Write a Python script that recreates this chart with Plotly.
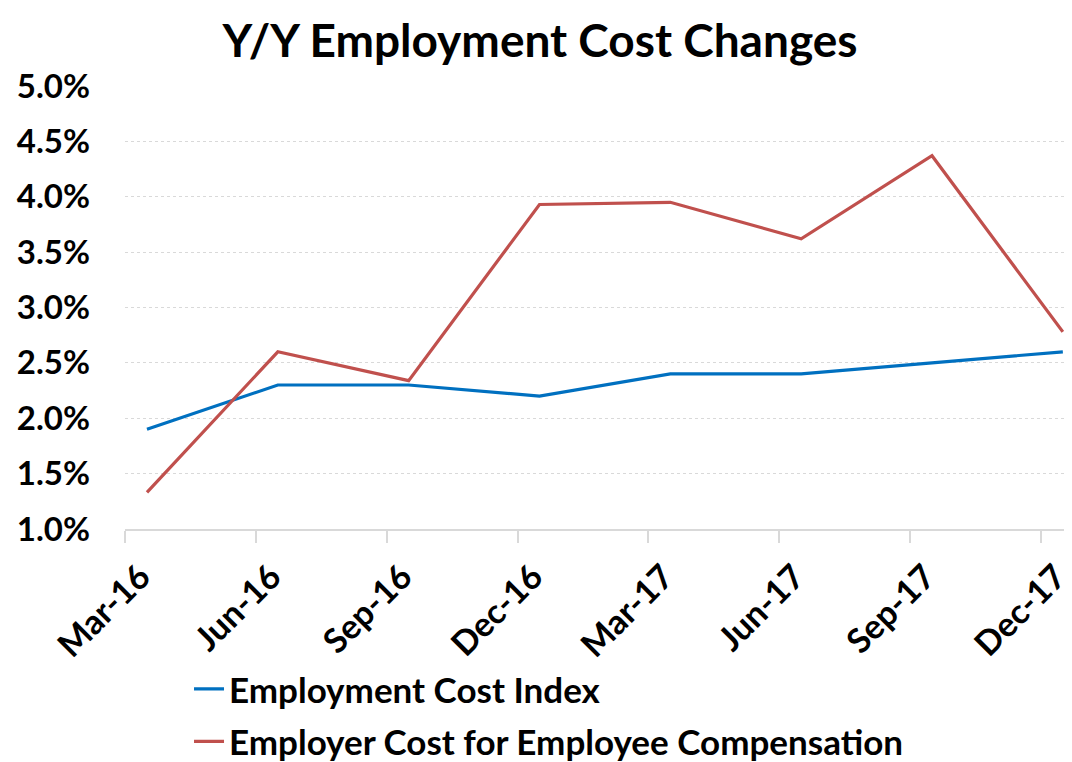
import plotly.graph_objects as go

categories = ["Mar-16", "Jun-16", "Sep-16", "Dec-16", "Mar-17", "Jun-17", "Sep-17", "Dec-17"]
eci = [1.9, 2.3, 2.3, 2.2, 2.4, 2.4, 2.5, 2.6]
ecec = [1.33, 2.6, 2.34, 3.93, 3.95, 3.62, 4.37, 2.78]
y_ticks = [1.0, 1.5, 2.0, 2.5, 3.0, 3.5, 4.0, 4.5, 5.0]

FONT = "Lato"
idx = list(range(len(categories)))
tick_offset = 0.168   # Excel-style tick marks sit left of the points
label_offset = 0.05   # labels sit slightly left of the points

fig = go.Figure()
fig.add_trace(go.Scatter(x=idx, y=eci, mode="lines", name="Employment Cost Index",
                         legendgroup="a", line=dict(color="#0070C0", width=3.2)))
fig.add_trace(go.Scatter(x=idx, y=ecec, mode="lines", name="Employer Cost for Employee Compensation",
                         legendgroup="b", line=dict(color="#C0504D", width=3.2)))
# invisible trace to carry the label axis
fig.add_trace(go.Scatter(x=idx, y=eci, xaxis="x2", mode="lines", showlegend=False,
                         line=dict(width=0), hoverinfo="skip", opacity=0))

xr = [-tick_offset, 7.07]
fig.update_layout(
    width=1064, height=754,
    margin=dict(l=117, r=0, t=78, b=233, autoexpand=False),
    paper_bgcolor="white", plot_bgcolor="white",
    title=dict(text="<b>Y/Y Employment Cost Changes</b>", x=0.5, xref="container", xanchor="center",
               y=0.957, yref="container", yanchor="middle",
               font=dict(family=FONT, size=46, color="black")),
    xaxis=dict(range=xr, tickmode="array", tickvals=[i - tick_offset for i in idx],
               showticklabels=False, ticks="outside", ticklen=12, tickcolor="#d9d9d9",
               tickwidth=1.5, showgrid=False, showline=True, linecolor="#d9d9d9",
               linewidth=1.5, zeroline=False, automargin=False),
    xaxis2=dict(range=xr, overlaying="x", anchor="y", side="bottom", tickmode="array",
                tickvals=[i - label_offset for i in idx], ticktext=categories, tickangle=-45,
                ticks="", showgrid=False, showline=False, zeroline=False,
                ticklabeloverflow="allow", ticklabelstandoff=20, automargin=False,
                tickfont=dict(family=FONT, size=34, color="black", weight="bold")),
    yaxis=dict(range=[1.0, 5.0], tickmode="array", tickvals=y_ticks,
               ticktext=[f"{v:.1f}%" for v in y_ticks],
               tickfont=dict(family=FONT, size=33, color="black", weight="bold"),
               ticklabelstandoff=34, automargin=False,
               showgrid=True, gridcolor="#d9d9d9", griddash="3px,3px", gridwidth=1,
               zeroline=False, showline=False, ticks=""),
    legend=dict(x=0.0676, y=-0.295, xanchor="left", yanchor="top",
                font=dict(family=FONT, size=35, color="black", weight="bold"),
                bgcolor="rgba(0,0,0,0)", tracegroupgap=4, itemwidth=30),
    showlegend=True,
)

fig.write_html("out.html")
